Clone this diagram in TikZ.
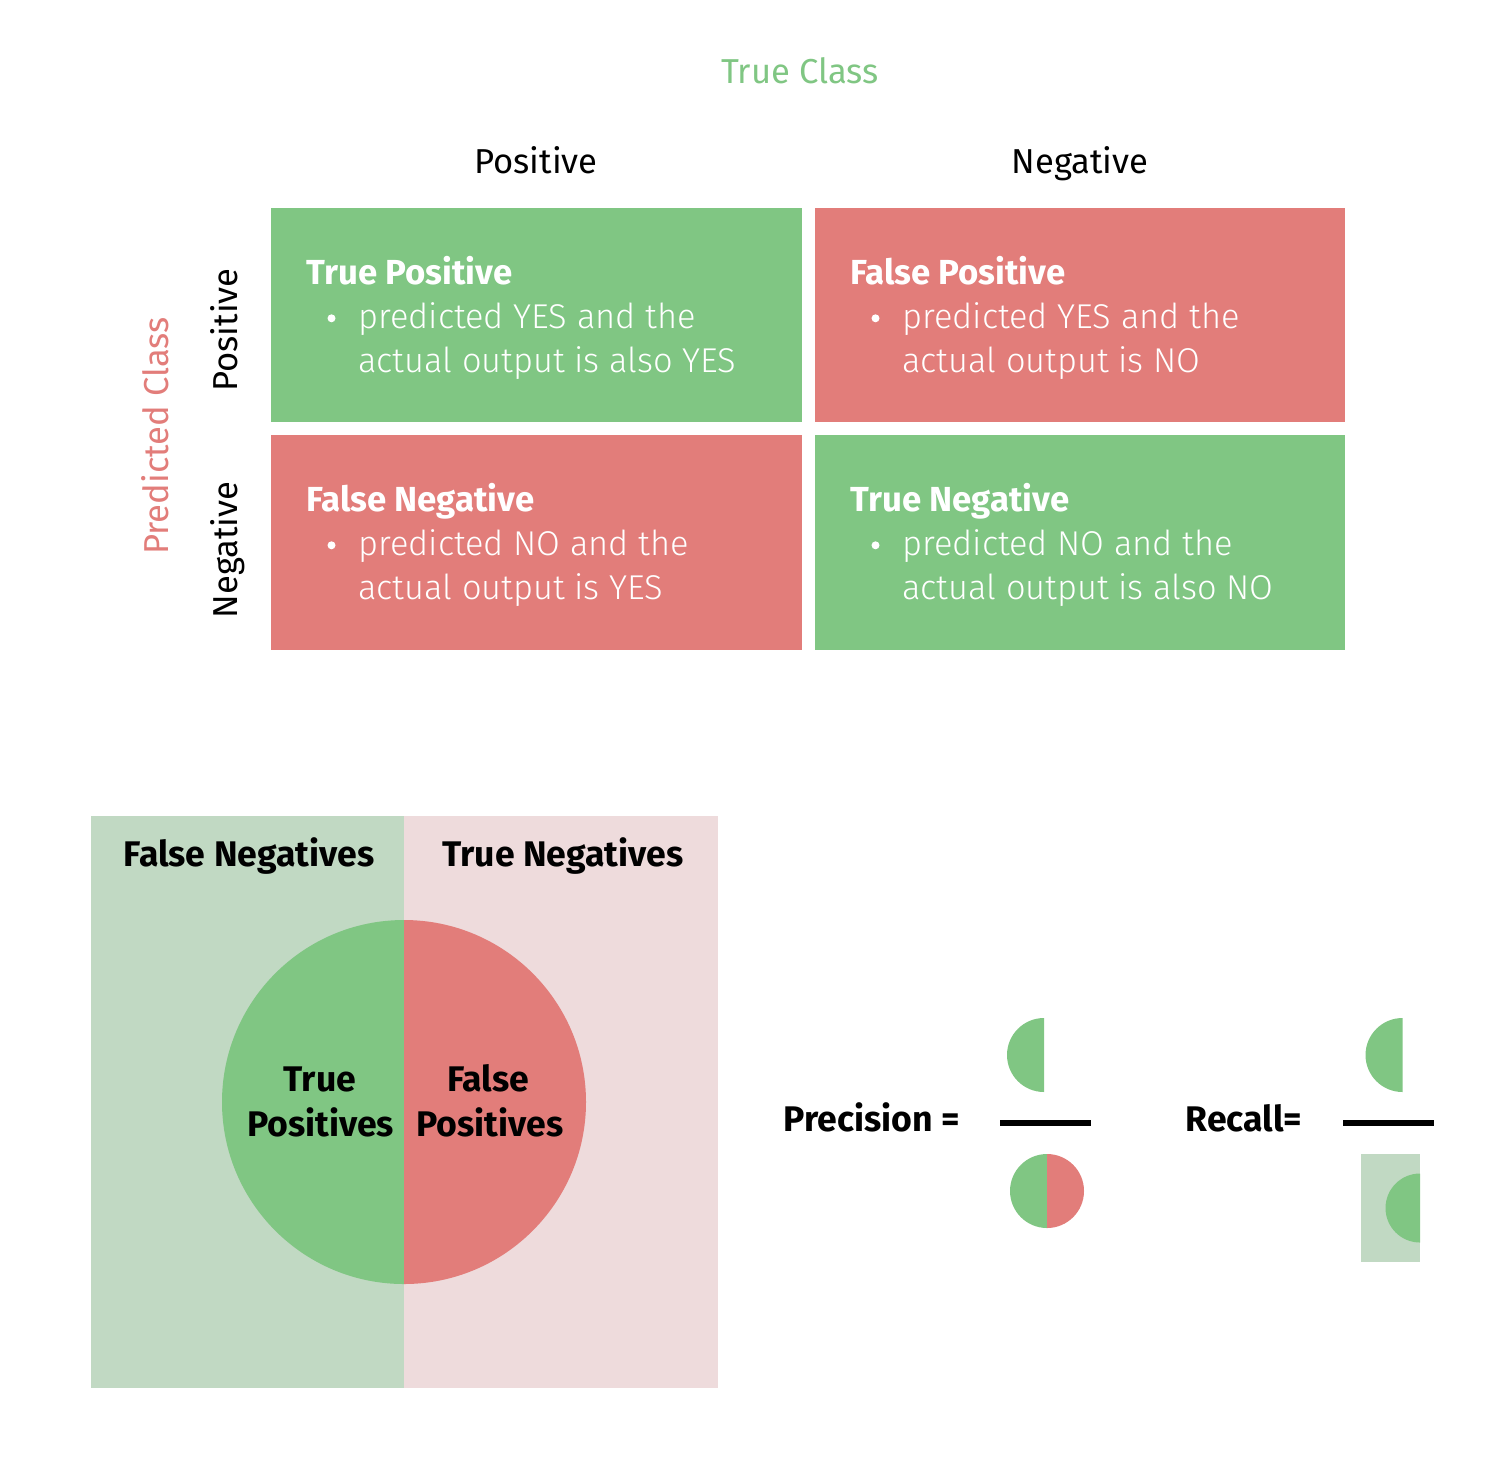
\documentclass[tikz,border=0pt]{standalone}
\usepackage{fontspec}
\setmainfont{Fira Sans}
\newfontfamily\lightfont{Fira Sans Light}
\newfontfamily\boldfont{Fira Sans Bold}
\definecolor{cgreen}{RGB}{128,198,131}
\definecolor{cred}{RGB}{226,125,122}
\definecolor{cpalegreen}{RGB}{193,217,195}
\definecolor{cpalepink}{RGB}{238,219,220}
\begin{document}
\begin{tikzpicture}[x=0.5pt,y=0.5pt,
  hdr/.style={font=\fontsize{17.3}{20}\selectfont, text=black, inner sep=0pt, anchor=base},
  celltitle/.style={font=\boldfont\fontsize{17.4}{20}\selectfont, text=white, anchor=base west, inner sep=0pt},
  celltext/.style={font=\lightfont\fontsize{17.2}{20}\selectfont, text=white, anchor=base west, inner sep=0pt},
  bullet/.style={circle, fill=white, inner sep=0pt, minimum size=4pt},
  bigbold/.style={font=\boldfont\fontsize{17.8}{20}\selectfont, text=black, inner sep=0pt, anchor=base}]
\useasboundingbox (0,0) rectangle (1486,-1468);

% ---- confusion matrix: axis labels ----
\node[hdr, text=cgreen] (trueclass) at (800,-83.3) {True Class};
\node[hdr] (colpos) at (536,-173.3) {Positive};
\node[hdr] (colneg) at (1080,-173.3) {Negative};
\node[hdr, text=cred, rotate=90] (predclass) at (168,-436) {Predicted Class};
\node[hdr, rotate=90] (rowpos) at (237,-330) {Positive};
\node[hdr, rotate=90] (rowneg) at (237,-550) {Negative};

% ---- confusion matrix: cells ----
\fill[cgreen] (271,-208) rectangle (802,-422);
\fill[cred]   (815,-208) rectangle (1345,-422);
\fill[cred]   (271,-435) rectangle (802,-650);
\fill[cgreen] (815,-435) rectangle (1345,-650);

\node[celltitle] (tptitle) at (306,-284.3) {True Positive};
\node[bullet] (tpbul) at (331.5,-318.3) {};
\node[celltext] (tpl1) at (358,-328) {predicted YES and the};
\node[celltext] (tpl2) at (358,-372) {actual output is also YES};

\node[celltitle] (fptitle) at (850,-284.3) {False Positive};
\node[bullet] (fpbul) at (875.5,-318.3) {};
\node[celltext] (fpl1) at (902,-328) {predicted YES and the};
\node[celltext] (fpl2) at (902,-372) {actual output is NO};

\node[celltitle] (fntitle) at (306,-511.3) {False Negative};
\node[bullet] (fnbul) at (331.5,-545.3) {};
\node[celltext] (fnl1) at (358,-555) {predicted NO and the};
\node[celltext] (fnl2) at (358,-599) {actual output is YES};

\node[celltitle] (tntitle) at (850,-511.3) {True Negative};
\node[bullet] (tnbul) at (875.5,-545.3) {};
\node[celltext] (tnl1) at (902,-555) {predicted NO and the};
\node[celltext] (tnl2) at (902,-599) {actual output is also NO};

% ---- set diagram ----
\fill[cpalegreen] (91,-816) rectangle (404,-1388);
\fill[cpalepink]  (404,-816) rectangle (718,-1388);
\fill[cgreen] (404,-920) arc[start angle=90, end angle=270, radius=182] -- cycle;
\fill[cred]   (404,-920) arc[start angle=90, end angle=-90, radius=182] -- cycle;
\node[bigbold] (fnlabel) at (249,-866.7) {False Negatives};
\node[bigbold] (tnlabel) at (563,-866.7) {True Negatives};
\node[bigbold] (tplabel1) at (320,-1091.7) {True};
\node[bigbold] (tplabel2) at (320.5,-1136) {Positives};
\node[bigbold] (fplabel1) at (488.5,-1091.7) {False};
\node[bigbold] (fplabel2) at (490,-1136) {Positives};

% ---- precision ----
\node[bigbold] (prec) at (872,-1131.7) {Precision =};
\draw[line width=3pt] (1000,-1122.5) -- (1091,-1122.5);
\fill[cgreen] (1044,-1018) arc[start angle=90, end angle=270, radius=37] -- cycle;
\fill[cgreen] (1047,-1154) arc[start angle=90, end angle=270, radius=37] -- cycle;
\fill[cred]   (1047,-1154) arc[start angle=90, end angle=-90, radius=37] -- cycle;

% ---- recall ----
\node[bigbold] (rec) at (1244,-1131.7) {Recall=};
\draw[line width=3pt] (1343,-1122.5) -- (1434,-1122.5);
\fill[cgreen] (1402.5,-1018) arc[start angle=90, end angle=270, radius=37] -- cycle;
\fill[cpalegreen] (1361,-1154) rectangle (1420,-1262);
\fill[cgreen] (1420,-1173.5) arc[start angle=90, end angle=270, radius=34.5] -- cycle;
\end{tikzpicture}
\end{document}
